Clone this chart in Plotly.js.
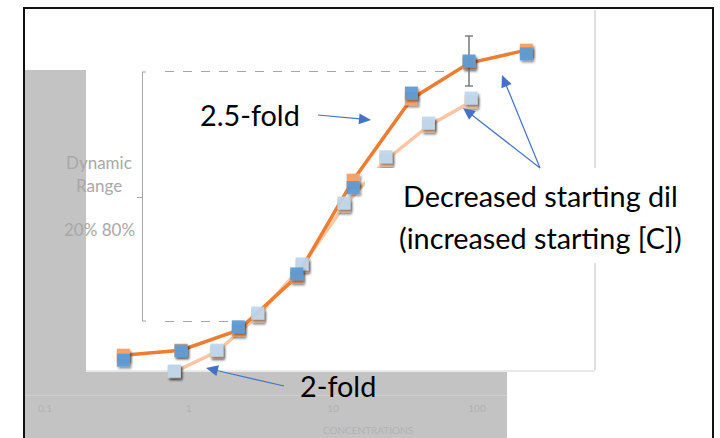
<!DOCTYPE html>
<html>
<head>
<meta charset="utf-8">
<script src="https://cdn.plot.ly/plotly-3.0.1.min.js"></script>
<style>
  html, body { margin: 0; padding: 0; background: #fff; }
  #chart { width: 720px; height: 438px; }
  /* soft drop shadow under the square markers */
  .scatterlayer path.point { filter: url(#mshadow); }
</style>
</head>
<body>
<svg width="0" height="0" style="position:absolute">
  <defs>
    <filter id="mshadow" x="-60%" y="-60%" width="220%" height="220%">
      <feDropShadow dx="1.5" dy="2" stdDeviation="1" flood-color="#000" flood-opacity="0.45"/>
    </filter>
  </defs>
</svg>
<div id="chart"></div>
<script>
// 2.5-fold dilution series (starting dilution lowered)
const concA = [0.35, 0.88, 2.2, 5.6, 13.8, 35, 88, 220];
const fitA  = [11.8, 13.0, 17.8, 30.6, 53.8, 73.3, 81.9, 85.0];
const obsA  = [10.6, 12.8, 18.6, 31.3, 52.0, 74.7, 82.4, 84.1];
const errA  = [0, 0, 0, 0, 0, 0, 6, 0];

// 2-fold dilution series
const concB = [0.79, 1.56, 3.0, 6.1, 11.9, 23.3, 46, 91];
const fitB  = [7.8, 12.6, 21.2, 33.2, 47.6, 58.6, 66.8, 72.6];
const obsB  = [8.0, 13.0, 21.9, 33.7, 48.3, 59.4, 67.5, 73.5];

const tickVals = [0.1, 1, 10, 100];
const tickText = ['0.1', '1', '10', '100'];

const FONT = 'Lato, "Open Sans", sans-serif';
const ORANGE = '#ed7d31', ORANGE_LT = '#f8c6a2';
const BLUE = '#5b9bd5', BLUE_LT = '#bdd7ee';
const ARROW = '#4472c4';

// plot frame in pixels
const L = 24, T = 7, W = 688, H = 388;
const X = p => (p - L) / W;
const Y = p => (T + H - p) / H;

const traces = [
  { x: concB, y: fitB, mode: 'lines+markers', type: 'scatter', cliponaxis: false,
    line: { color: ORANGE_LT, width: 3.5 },
    marker: { symbol: 'square', size: 13, color: ORANGE_LT } },
  { x: concA, y: fitA, mode: 'lines+markers', type: 'scatter', cliponaxis: false,
    line: { color: ORANGE, width: 3.5 },
    marker: { symbol: 'square', size: 13, color: '#f3a26c' } },
  { x: concB, y: obsB, mode: 'markers', type: 'scatter', cliponaxis: false,
    marker: { symbol: 'square', size: 13, color: BLUE_LT, opacity: 0.92 } },
  { x: concA, y: obsA, mode: 'markers', type: 'scatter', cliponaxis: false,
    error_y: { type: 'data', array: errA, visible: true, color: '#808080', thickness: 1.6, width: 4 },
    marker: { symbol: 'square', size: 13, color: BLUE, opacity: 0.95 } }
];

function hline(x0, x1, y, color, width, dash, layer) {
  return { type: 'line', layer: layer || 'below', xref: 'paper', yref: 'paper',
    x0: X(x0), x1: X(x1), y0: Y(y), y1: Y(y),
    line: { color: color, width: width, dash: dash || 'solid' } };
}
function vline(x, y0, y1, color, width, layer) {
  return { type: 'line', layer: layer || 'below', xref: 'paper', yref: 'paper',
    x0: X(x), x1: X(x), y0: Y(y0), y1: Y(y1), line: { color: color, width: width } };
}
function arrow(x0, y0, x1, y1) {
  const dx = x1 - x0, dy = y1 - y0, len = Math.hypot(dx, dy);
  const ux = dx / len, uy = dy / len, px = -uy, py = ux;
  const hl = 12, hw = 5.5;
  const bx = x1 - ux * hl, by = y1 - uy * hl;
  return [
    { type: 'line', layer: 'above', xref: 'paper', yref: 'paper',
      x0: X(x0), y0: Y(y0), x1: X(bx + ux), y1: Y(by + uy), line: { color: ARROW, width: 1.2 } },
    { type: 'path', layer: 'above', xref: 'paper', yref: 'paper',
      path: `M${X(x1)},${Y(y1)} L${X(bx + px * hw)},${Y(by + py * hw)} L${X(bx - px * hw)},${Y(by - py * hw)} Z`,
      fillcolor: ARROW, line: { width: 0 } }
  ];
}

const shapes = [
  // grey chart area behind, white plot area on top
  { type: 'rect', layer: 'below', xref: 'paper', yref: 'paper',
    x0: X(24), x1: X(507), y0: Y(70), y1: Y(445), fillcolor: '#c3c3c3', line: { width: 0 } },
  { type: 'rect', layer: 'below', xref: 'paper', yref: 'paper',
    x0: X(86), x1: X(595), y0: Y(10), y1: Y(370), fillcolor: '#ffffff', line: { width: 0 } },
  vline(595, 10, 370, '#bfbfbf', 1),
  hline(86, 595, 371, '#e9e9e9', 2),
  hline(24, 507, 395.5, '#cecece', 1),
  // dynamic range bracket
  vline(142.5, 72, 321, '#a6a6a6', 1),
  hline(142, 146, 72, '#a6a6a6', 1),
  hline(142, 146, 321, '#a6a6a6', 1),
  hline(137, 142, 197.5, '#a6a6a6', 1),
  hline(165, 450, 71.5, '#a6a6a6', 1, 'dash'),
  hline(165, 236, 321.5, '#a6a6a6', 1, 'dash'),
  // white panel behind the callout text
  { type: 'rect', layer: 'above', xref: 'paper', yref: 'paper',
    x0: X(365), x1: X(706), y0: Y(168), y1: Y(263), fillcolor: '#ffffff', line: { width: 0 } },
  ...arrow(318, 115, 371, 120),
  ...arrow(284, 386, 206, 368),
  ...arrow(540, 168, 463, 108),
  ...arrow(540, 168, 502, 75),
  // slide frame
  { type: 'rect', layer: 'above', xref: 'paper', yref: 'paper',
    x0: X(24), x1: X(713), y0: Y(8), y1: Y(450), fillcolor: 'rgba(0,0,0,0)',
    line: { color: '#111', width: 2 } }
];

function label(text, px, py, size, color) {
  return { text: text, xref: 'paper', yref: 'paper', x: X(px), y: Y(py),
    xanchor: 'center', yanchor: 'middle', showarrow: false,
    font: { family: FONT, size: size, color: color } };
}

const annotations = [
  label('Dynamic', 99, 162, 17, '#a8a8a8'),
  label('Range', 99, 185, 17, '#a8a8a8'),
  label('20% 80%', 99, 229, 17, '#a8a8a8'),
  label('2.5-fold', 250, 115, 28.8, '#000'),
  label('Decreased starting dil', 540, 196, 28.8, '#000'),
  label('(increased starting [C])', 540, 238, 28.8, '#000'),
  label('2-fold', 338, 386, 28.8, '#000')
];

const layout = {
  width: 720, height: 438,
  margin: { l: L, r: 720 - L - W, t: T, b: 438 - T - H, pad: 0 },
  paper_bgcolor: '#ffffff', plot_bgcolor: 'rgba(0,0,0,0)',
  showlegend: false,
  xaxis: {
    type: 'log', range: [-1 - (45 - 24) / 144, 2 + (712 - 477) / 144],
    tickvals: tickVals, ticktext: tickText, ticks: '', ticklen: 0,
    ticklabelstandoff: 6,
    showgrid: false, zeroline: false, showline: false,
    tickfont: { family: FONT, size: 10, color: '#b2b2b2' },
    title: { text: 'CONCENTRATIONS', standoff: 13,
             font: { family: FONT, size: 10, color: '#b2b2b2' } }
  },
  yaxis: { range: [(404.33 - 395) / (250 / 60), (404.33 - 7) / (250 / 60)], visible: false,
           showgrid: false, zeroline: false },
  shapes: shapes,
  annotations: annotations
};

Plotly.newPlot('chart', traces, layout, { staticPlot: true, displayModeBar: false });
</script>
</body>
</html>
